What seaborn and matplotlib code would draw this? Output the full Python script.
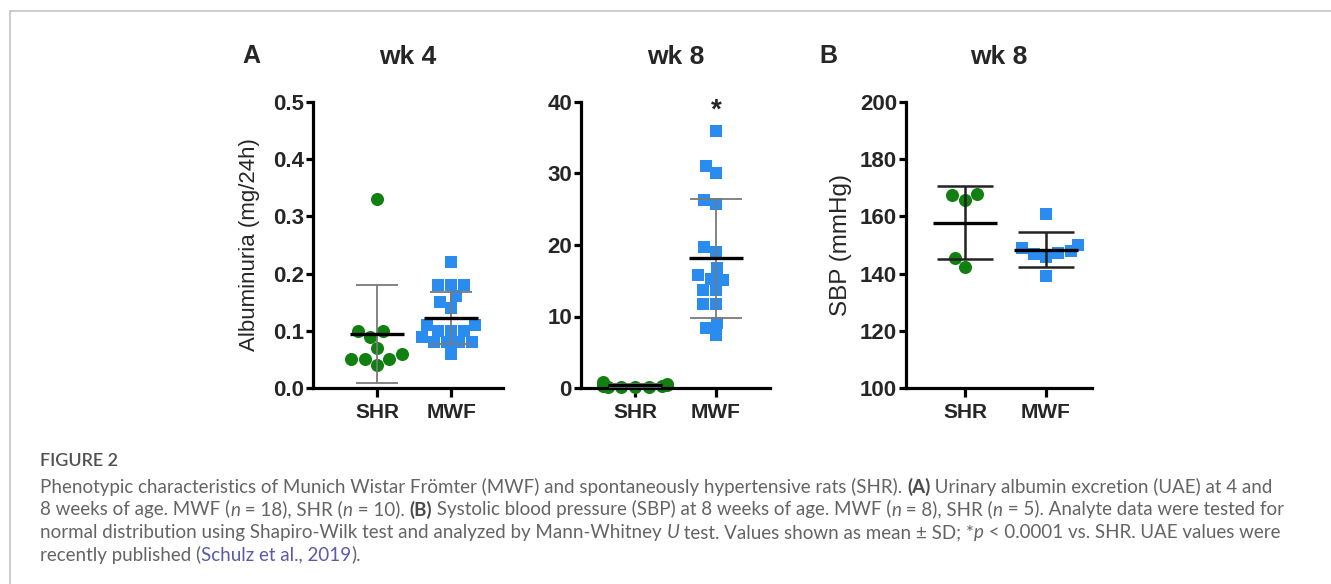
import matplotlib
matplotlib.use("Agg")
import matplotlib.pyplot as plt
import numpy as np
import pandas as pd
import seaborn as sns

# ---------------- data ----------------
groups = ["SHR", "MWF"]
wk4_shr = [0.33, 0.10, 0.10, 0.09, 0.07, 0.06, 0.05, 0.05, 0.05, 0.04]
wk4_mwf = [0.22, 0.18, 0.18, 0.18, 0.16, 0.15, 0.14, 0.11, 0.11, 0.10,
           0.10, 0.10, 0.09, 0.08, 0.08, 0.08, 0.08, 0.06]
wk8_shr = [0.8, 0.5, 0.6, 0.2, 0.3, 0.1, 0.2, 0.3, 0.2, 0.4]
wk8_mwf = [36.0, 31.0, 30.0, 26.3, 25.7, 19.7, 19.0, 16.8, 15.8, 15.3,
           15.1, 13.7, 13.7, 11.7, 11.7, 9.1, 8.4, 7.4]
sbp_shr = [168.0, 167.4, 165.8, 145.5, 142.3]
sbp_mwf = [161.0, 149.9, 149.1, 147.9, 147.3, 147.0, 145.8, 139.2]

titles = ["wk 4", "wk 8", "wk 8"]
ylabels = ["Albuminuria (mg/24h)", "", "SBP (mmHg)"]
yticks_list = [[0.0, 0.1, 0.2, 0.3, 0.4, 0.5],
               [0, 10, 20, 30, 40],
               [100, 120, 140, 160, 180, 200]]
yticklabels_list = [["0.0", "0.1", "0.2", "0.3", "0.4", "0.5"],
                    ["0", "10", "20", "30", "40"],
                    ["100", "120", "140", "160", "180", "200"]]
panel_letters = ["A", "B"]
signif_text = "*"

GREEN = "#118011"
BLUE = "#2b8cf0"

# ---------------- figure ----------------
sns.set_style("ticks")
plt.rcParams["font.family"] = ["Liberation Sans", "DejaVu Sans"]

W, H = 1331, 584
fig = plt.figure(figsize=(W / 100, H / 100), dpi=100)
fig.patch.set_facecolor("white")

# page frame (left and top rules)
fig.add_artist(plt.Line2D([9.5 / W, 9.5 / W], [0, 1 - 10.5 / H], transform=fig.transFigure,
                          color="#c4c4c4", lw=1.2))
fig.add_artist(plt.Line2D([9.5 / W, 1], [1 - 10.5 / H, 1 - 10.5 / H], transform=fig.transFigure,
                          color="#c4c4c4", lw=1.2))

def px_axes(x0, x1, ytop, ybot):
    return fig.add_axes([x0 / W, 1 - ybot / H, (x1 - x0) / W, (ybot - ytop) / H])

axes = [px_axes(313, 503, 102, 388), px_axes(581, 770, 102, 388), px_axes(906, 1092, 102, 388)]
xlims = [(-0.865, 1.70), (-0.667, 1.667), (-0.73, 1.57)]
halfw = [0.36, 0.33, 0.40]
caps = [15, 19, 20]
ecols = ["#7a7a7a", "#7a7a7a", "#222222"]
elws = [1.3, 1.3, 1.8]
ylabel_sizes = [16, 16, 17.5]
ylabel_pads = [9, 9, 6]

datasets = [(wk4_shr, wk4_mwf), (wk8_shr, wk8_mwf), (sbp_shr, sbp_mwf)]

for k, (ax, (a, b)) in enumerate(zip(axes, datasets)):
    df = pd.DataFrame({"group": ["SHR"] * len(a) + ["MWF"] * len(b), "value": list(a) + list(b)})
    sns.swarmplot(data=df[df.group == "SHR"], x="group", y="value", order=groups,
                  color=GREEN, marker="o", size=9.4, linewidth=0, ax=ax, zorder=2,
                  warn_thresh=1)
    sns.swarmplot(data=df[df.group == "MWF"], x="group", y="value", order=groups,
                  color=BLUE, marker="s", size=8.8, linewidth=0, ax=ax, zorder=2,
                  warn_thresh=1)
    for i, g in enumerate(groups):
        vals = df[df.group == g].value
        m, s = vals.mean(), vals.std(ddof=1)
        ax.errorbar(i, m, yerr=s, fmt="none", ecolor=ecols[k], elinewidth=elws[k],
                    capsize=caps[k], capthick=elws[k], zorder=3)
        ax.hlines(m, i - halfw[k], i + halfw[k], color="black", lw=2.4, zorder=4)

    ax.set_xlim(*xlims[k])
    ax.set_ylim(yticks_list[k][0], yticks_list[k][-1])
    ax.set_yticks(yticks_list[k])
    ax.set_yticklabels(yticklabels_list[k])
    ax.set_xticks([0, 1])
    ax.set_xticklabels(groups)
    for lab in ax.get_xticklabels():
        lab.set_fontweight("bold")
        lab.set_fontsize(15)
    for lab in ax.get_yticklabels():
        lab.set_fontweight("bold")
        lab.set_fontsize(16)
    ax.set_xlabel("")
    ax.set_ylabel(ylabels[k], fontsize=ylabel_sizes[k], labelpad=ylabel_pads[k])
    ax.set_title(titles[k], fontsize=19, fontweight="bold", pad=27)
    for sp in ["top", "right"]:
        ax.spines[sp].set_visible(False)
    for sp in ["left", "bottom"]:
        ax.spines[sp].set_linewidth(2.3)
        ax.spines[sp].set_color("black")
        ax.spines[sp].set_capstyle("projecting")
    ax.tick_params(axis="y", direction="out", length=5, width=2.3, color="black", pad=1.5)
    ax.tick_params(axis="x", direction="out", length=6.5, width=2.3, color="black", pad=4.5)
    ax.set_facecolor("none")
    for coll in ax.collections:
        coll.set_clip_on(False)

axes[1].text(1, 38.8, signif_text, ha="center", va="center", fontsize=20, fontweight="bold")

fig.text(251 / W, 1 - 56 / H, panel_letters[0], ha="center", va="center", fontsize=18, fontweight="bold")
fig.text(828 / W, 1 - 56 / H, panel_letters[1], ha="center", va="center", fontsize=18, fontweight="bold")

# ---------------- caption ----------------
fig.canvas.draw()
rend = fig.canvas.get_renderer()
CAP_FONT = ["Lato", "DejaVu Sans"]
CAP_SIZE = 13.5
CAP_COL = "#646464"
LINK_COL = "#5a5aa8"

def text_width(s, **kw):
    t1 = fig.text(0, 0, s + "|", **kw)
    t2 = fig.text(0, 0, "|", **kw)
    w = t1.get_window_extent(rend).width - t2.get_window_extent(rend).width
    t1.remove(); t2.remove()
    return w

def rich_line(x_px, base_px, pieces):
    x = x_px
    for s, style in pieces:
        kw = dict(fontsize=CAP_SIZE, family=CAP_FONT, color=CAP_COL)
        kw.update(style)
        fig.text(x / W, 1 - base_px / H, s, va="baseline", ha="left", **kw)
        x += text_width(s, **kw)

fig.text(40 / W, 1 - 466 / H, "FIGURE 2", va="baseline", ha="left", fontsize=13,
         family=CAP_FONT, color="#505050", fontweight="semibold")

R = {}
B_ = {"fontweight": "bold", "color": "#4a4a4a"}
I_ = {"style": "italic"}
L_ = {"color": LINK_COL}
lines = [
    [("Phenotypic characteristics of Munich Wistar Frömter (MWF) and spontaneously hypertensive rats (SHR). ", R),
     ("(A)", B_), (" Urinary albumin excretion (UAE) at 4 and", R)],
    [("8 weeks of age. MWF (", R), ("n", I_), (" = 18), SHR (", R), ("n", I_), (" = 10). ", R), ("(B)", B_),
     (" Systolic blood pressure (SBP) at 8 weeks of age. MWF (", R), ("n", I_), (" = 8), SHR (", R),
     ("n", I_), (" = 5). Analyte data were tested for", R)],
    [("normal distribution using Shapiro-Wilk test and analyzed by Mann-Whitney ", R), ("U", I_),
     (" test. Values shown as mean ± SD; *", R), ("p", I_), (" < 0.0001 vs. SHR. UAE values were", R)],
    [("recently published (", R), ("Schulz et al., 2019", L_), (").", R)],
]
baselines = [493, 515.5, 538, 560.5]
for pieces, bl in zip(lines, baselines):
    rich_line(40, bl, pieces)

fig.savefig("out.png", dpi=100, facecolor="white")
